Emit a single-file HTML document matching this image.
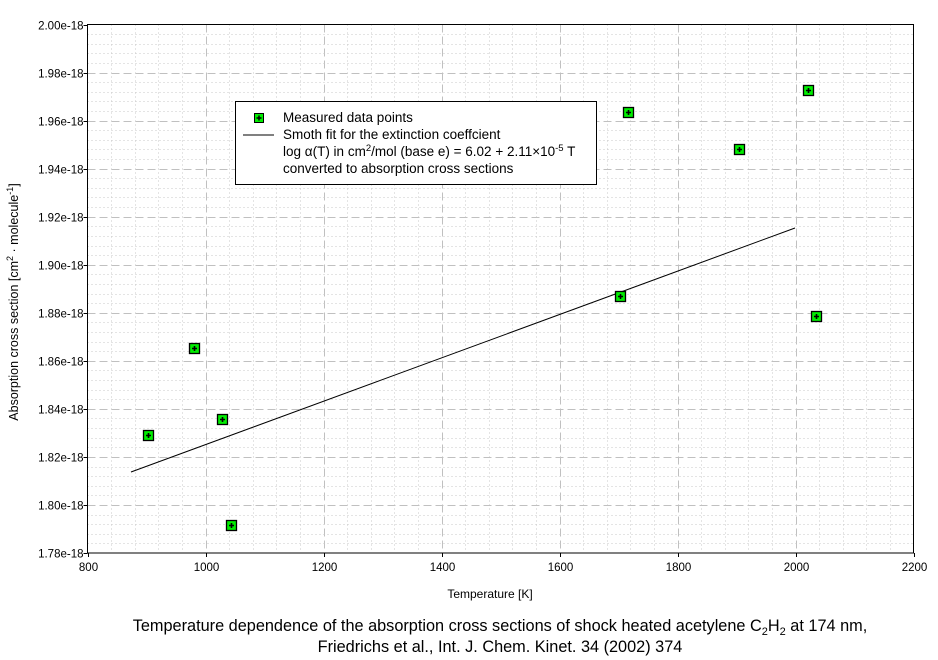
<!DOCTYPE html>
<html><head><meta charset="utf-8"><style>
body{margin:0;background:#fff;}
svg{display:block;font-family:"Liberation Sans",sans-serif;}
</style></head><body>
<svg id="s" width="938" height="660" viewBox="0 0 938 660" xmlns="http://www.w3.org/2000/svg">
<rect width="938" height="660" fill="#fff"/>
<g id="grid"></g>
<g id="ticks" stroke="#000" stroke-width="1"></g>
<g id="lab" font-size="11" fill="#000"></g>
<line x1="131" y1="472" x2="795" y2="228" stroke="#000" stroke-width="1"/>
<g id="pts"></g>
<path d="M87.5 553V24.5H913.5V553H87.5" fill="none" stroke="#000" stroke-width="1"/>
<rect x="235.5" y="101.5" width="361" height="83" fill="#fff" stroke="#000"/>
<rect x="254.5" y="113.5" width="9" height="9" fill="#00ee00" stroke="#000"/>
<path d="M259 115.5v5M256.5 118h5" stroke="#000" stroke-width="1.5"/>
<line x1="243" y1="135" x2="274" y2="135" stroke="#000"/>
<g font-size="13.5" fill="#000">
<text x="283" y="122">Measured data points</text>
<text x="283" y="139">Smoth fit for the extinction coeffcient</text>
<text x="283" y="156">log α(T) in cm<tspan dy="-5" font-size="9.5">2</tspan><tspan dy="5">/mol (base e) = 6.02 + 2.11×10</tspan><tspan dy="-5" font-size="9.5">-5</tspan><tspan dy="5"> T</tspan></text>
<text x="283" y="173">converted to absorption cross sections</text>
</g>
<text x="490" y="598" font-size="12" text-anchor="middle">Temperature [K]</text>
<text transform="translate(18,302) rotate(-90)" font-size="12.5" text-anchor="middle">Absorption cross section [cm<tspan dy="-5" font-size="9">2</tspan><tspan dy="5"> · molecule</tspan><tspan dy="-5" font-size="9">-1</tspan><tspan dy="5">]</tspan></text>
<text x="500" y="631" font-size="16.3" text-anchor="middle">Temperature dependence of the absorption cross sections of shock heated acetylene C<tspan dy="4" font-size="11">2</tspan><tspan dy="-4">H</tspan><tspan dy="4" font-size="11">2</tspan><tspan dy="-4"> at 174 nm,</tspan></text>
<text x="500" y="652" font-size="16.3" text-anchor="middle">Friedrichs et al.,  Int. J. Chem. Kinet. 34 (2002) 374</text>
</svg>
<script>
var NS="http://www.w3.org/2000/svg";
function el(p,t,a){var e=document.createElementNS(NS,t);for(var k in a)e.setAttribute(k,a[k]);p.appendChild(e);return e;}
var g=document.getElementById("grid"),tk=document.getElementById("ticks"),lb=document.getElementById("lab");
var L=87.5,R=913.5,T=24.5,B=553;
function px(v){return L+(v-800)*(R-L)/1400;}
function py(v){return B-(v-1.78)*(B-T)/0.22;}
for(var v=800;v<=2200;v+=40){var x=Math.round(px(v))+0.5;var maj=(v%200==0);
 if(v>800&&v<2200)el(g,"line",{x1:x,y1:T,x2:x,y2:B,stroke:maj?"#c0c0c0":"#c8c8c8","stroke-dasharray":maj?"8,4":"1,3","stroke-width":1});
 if(maj){el(tk,"line",{x1:x,y1:B,x2:x,y2:B+4});var t=el(lb,"text",{x:x,y:B+18,"text-anchor":"middle","font-size":"11.5"});t.textContent=v;}}
for(var i=0;i<=55;i++){var v=1.78+i*0.004;var y=Math.round(py(v))+0.5;var maj=(i%5==0);
 if(i>0&&i<55)el(g,"line",{x1:L,y1:y,x2:R,y2:y,stroke:maj?"#c0c0c0":"#c8c8c8","stroke-dasharray":maj?"8,4":"1,3","stroke-width":1});
 if(maj){el(tk,"line",{x1:L-4,y1:y,x2:L,y2:y});var t=el(lb,"text",{x:L-4,y:y+4,"text-anchor":"end","font-size":"11.5"});t.textContent=(v).toFixed(2)+"e-18";}}
var P=[[149,436],[195,349],[223,420],[232,526],[621,297],[629,113],[740,150],[809,91],[817,317]];
var pg=document.getElementById("pts");
P.forEach(function(p){el(pg,"rect",{x:p[0]-5.5,y:p[1]-5.5,width:10,height:10,fill:"#00ee00",stroke:"#000","stroke-width":1.3});
 el(pg,"path",{d:"M"+(p[0]-0.5)+" "+(p[1]-3)+"v5M"+(p[0]-3)+" "+(p[1]-0.5)+"h5",stroke:"#000","stroke-width":1.6});});
</script>
</body></html>
